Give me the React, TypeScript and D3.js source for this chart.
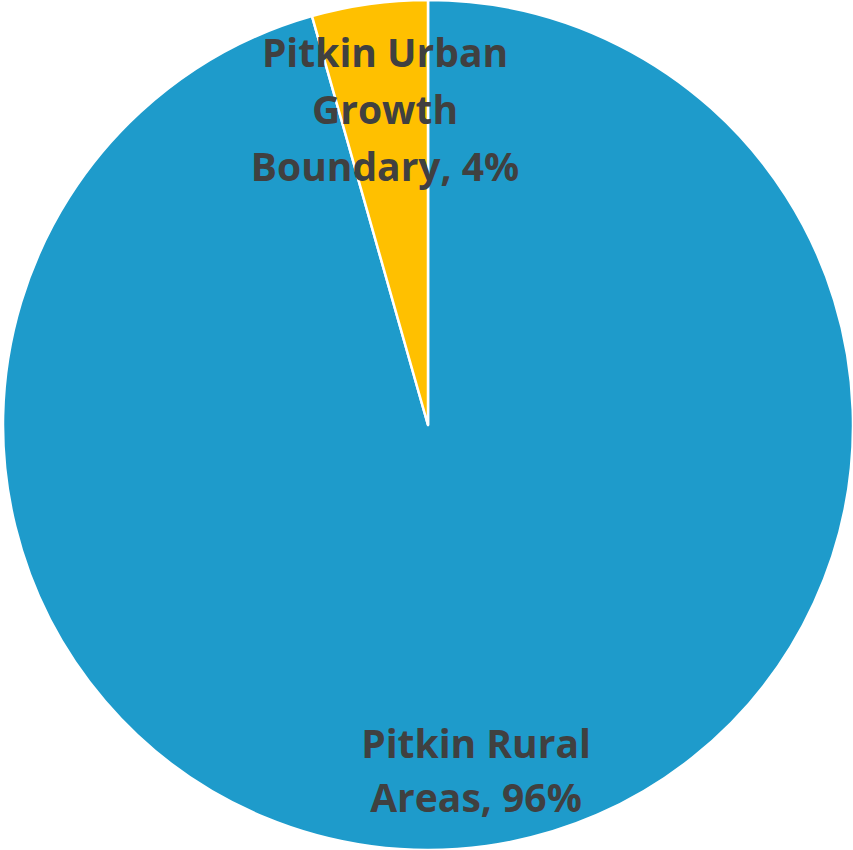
import React from "react";
import * as d3 from "d3";

const categories = ["Pitkin Rural Areas", "Pitkin Urban Growth Boundary"];
const values = [95.6, 4.4];
const percentLabels = ["96%", "4%"];
const labelLines = [
  ["Pitkin Rural", "Areas, 96%"],
  ["Pitkin Urban", "Growth", "Boundary, 4%"],
];
const colors = ["#1E9BCB", "#FFC000"];

const W = 853;
const H = 850;
const cx = 428;
const cy = 425;
const R = 425;

// label anchor (center x, first baseline y, line height)
const labelLayout = [
  { x: 476, y: 758, lh: 54 },
  { x: 385, y: 67, lh: 57 },
];

export default function App() {
  const pie = d3
    .pie<number>()
    .sort(null)
    .value((d) => d);
  const arcs = pie(values);
  const arc = d3.arc<d3.PieArcDatum<number>>().innerRadius(0).outerRadius(R);

  return (
    <svg
      width={W}
      height={H}
      style={{ position: "absolute", left: 0, top: 0, background: "#fff" }}
    >
      <g transform={`translate(${cx},${cy})`}>
        {arcs.map((a, i) => (
          <path
            key={categories[i]}
            d={arc(a) || ""}
            fill={colors[i]}
            stroke="#fff"
            strokeWidth={2.5}
            strokeLinejoin="round"
          />
        ))}
      </g>
      {labelLines.map((lines, i) => (
        <text
          key={i}
          textAnchor="middle"
          fontFamily="'Open Sans', sans-serif"
          fontWeight="bold"
          fontSize={39}
          fill="#404040"
          data-pct={percentLabels[i]}
        >
          {lines.map((l, j) => (
            <tspan key={j} x={labelLayout[i].x} y={labelLayout[i].y + j * labelLayout[i].lh}>
              {l}
            </tspan>
          ))}
        </text>
      ))}
    </svg>
  );
}
